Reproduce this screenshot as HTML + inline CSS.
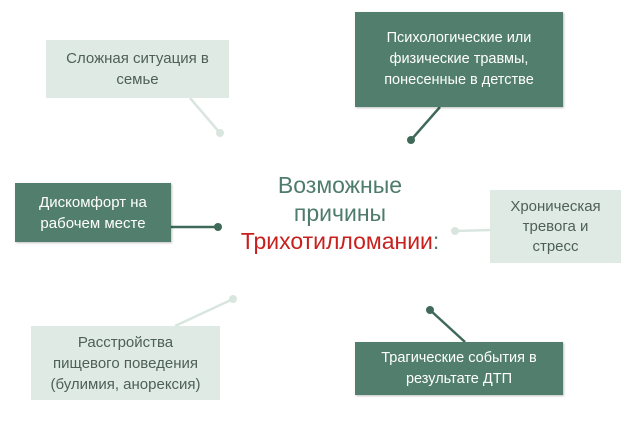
<!DOCTYPE html>
<html><head><meta charset="utf-8"><style>
body{margin:0;width:640px;height:421px;background:#fff;position:relative;overflow:hidden;font-family:"Liberation Sans",sans-serif}
.b{position:absolute;display:flex;align-items:center;justify-content:center;text-align:center;font-size:15px;line-height:21px}
.d{background:#527f6d;color:#fff;box-shadow:1px 1px 2px rgba(0,0,0,.25)}
.l{background:#dfeae5;color:#4d5f58}
svg{position:absolute;left:0;top:0}
</style></head><body>
<svg width="640" height="421">
<g stroke-width="2.5">
<line x1="190" y1="98" x2="220" y2="133" stroke="#d9e6e0"/>
<line x1="440" y1="107" x2="411" y2="140" stroke="#3f6a5a"/>
<line x1="171" y1="227" x2="218" y2="227" stroke="#3f6a5a"/>
<line x1="490" y1="230" x2="455" y2="231" stroke="#d9e6e0"/>
<line x1="175" y1="326" x2="233" y2="299" stroke="#d9e6e0"/>
<line x1="465" y1="342" x2="430" y2="310" stroke="#3f6a5a"/>
</g>
<circle cx="220" cy="133" r="4" fill="#d9e6e0"/>
<circle cx="411" cy="140" r="4" fill="#3f6a5a"/>
<circle cx="218" cy="227" r="4" fill="#3f6a5a"/>
<circle cx="455" cy="231" r="4" fill="#d9e6e0"/>
<circle cx="233" cy="299" r="4" fill="#d9e6e0"/>
<circle cx="430" cy="310" r="4" fill="#3f6a5a"/>
</svg>
<div class="b l" style="left:46px;top:40px;width:183px;height:58px">Сложная ситуация в<br>семье</div>
<div class="b d" style="left:355px;top:12px;width:208px;height:95px;font-size:14.5px">Психологические или<br>физические травмы,<br>понесенные в детстве</div>
<div class="b d" style="left:15px;top:183px;width:156px;height:59px">Дискомфорт на<br>рабочем месте</div>
<div class="b l" style="left:490px;top:190px;width:131px;height:73px;line-height:20px">Хроническая<br>тревога и<br>стресс</div>
<div class="b l" style="left:31px;top:326px;width:189px;height:74px">Расстройства<br>пищевого поведения<br>(булимия, анорексия)</div>
<div class="b d" style="left:355px;top:342px;width:208px;height:53px;font-size:14.5px">Трагические события в<br>результате ДТП</div>
<div style="position:absolute;left:200px;top:171px;width:280px;text-align:center;font-size:23px;line-height:28px;color:#4f7b6c">Возможные<br>причины<br><span style="color:#c8201e">Трихотилломании</span>:</div>
</body></html>
